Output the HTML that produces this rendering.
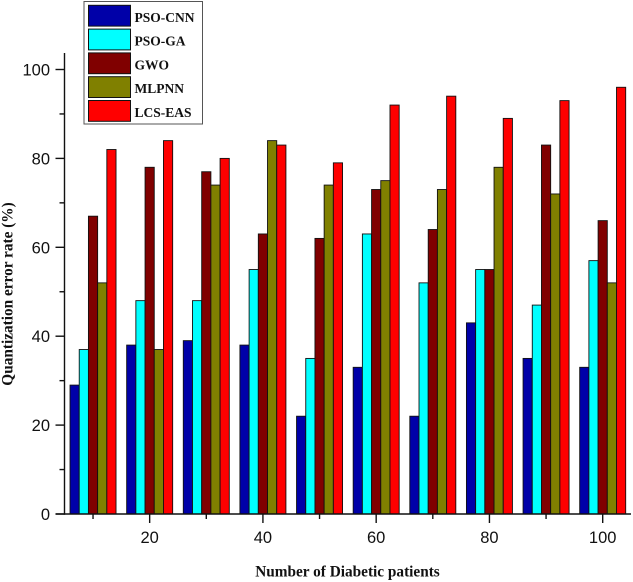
<!DOCTYPE html>
<html lang="en">
<head>
<meta charset="utf-8">
<title>Quantization error rate chart</title>
<style>
html,body{margin:0;padding:0;background:#fff;width:633px;height:582px;overflow:hidden}
svg{display:block;position:absolute;left:0;top:0}
.tick{font-family:"Liberation Sans",sans-serif;font-size:16.5px;fill:#111}
.title{font-family:"Liberation Serif",serif;font-weight:bold;font-size:15.3px;fill:#111}
.leg{font-family:"Liberation Serif",serif;font-weight:bold;font-size:13.5px;fill:#111}
</style>
</head>
<body>
<svg id="chart" width="633" height="582" viewBox="0 0 633 582" xmlns="http://www.w3.org/2000/svg">
<text class="title" x="347.5" y="576.5" text-anchor="middle">Number of Diabetic patients</text>
<text class="title" transform="translate(12.5,294) rotate(-90)" text-anchor="middle">Quantization error rate (%)</text>
</svg>
<script>
const categories = [10, 20, 30, 40, 50, 60, 70, 80, 90, 100];
const seriesNames = ['PSO-CNN', 'PSO-GA', 'GWO', 'MLPNN', 'LCS-EAS'];
const psoCnn = [29, 38, 39, 38, 22, 33, 22, 43, 35, 33];
const psoGa = [37, 48, 48, 55, 35, 63, 52, 55, 47, 57];
const gwo = [67, 78, 77, 63, 62, 73, 64, 55, 83, 66];
const mlpnn = [52, 37, 74, 84, 74, 75, 73, 78, 72, 52];
const lcsEas = [82, 84, 80, 83, 79, 92, 94, 89, 93, 96];
const yTicks = [0, 20, 40, 60, 80, 100];
const yMinorTicks = [10, 30, 50, 70, 90];
const xTicks = [20, 40, 60, 80, 100];
const xMinorTicks = [10, 30, 50, 70, 90];

const seriesValues = [psoCnn, psoGa, gwo, mlpnn, lcsEas];
const seriesColors = ['#0000a8', '#00ffff', '#800000', '#808000', '#ff0000'];
const svg = document.getElementById('chart');
const NS = 'http://www.w3.org/2000/svg';
const xScale = v => 36.4 + 5.663 * v;
const yScale = v => 514 - 4.445 * v;
const barW = 9.2;

function make(tag, props) {
  const el = document.createElementNS(NS, tag);
  for (const k in props) el.setAttribute(k, props[k]);
  return el;
}

categories.forEach((c, i) => {
  seriesValues.forEach((vals, s) => {
    const top = yScale(vals[i]);
    const bar = make('rect', {
      x: xScale(c) - 2.5 * barW + s * barW,
      y: top,
      width: barW,
      height: yScale(0) - top,
      fill: seriesColors[s],
      stroke: '#111',
      'stroke-width': 0.9
    });
    
    
    svg.appendChild(bar);
  });
});

const yAxis = make('line', {x1: 64.5, x2: 64.5, y1: 53, y2: yScale(0) + 0.7, stroke: '#111', 'stroke-width': 1.4});


svg.appendChild(yAxis);

const xAxis = make('line', {x1: 55.5, x2: 631, y1: yScale(0), y2: yScale(0), stroke: '#111', 'stroke-width': 1.4});


svg.appendChild(xAxis);

yTicks.forEach(v => {
  const t = make('line', {x1: 55.5, x2: 64.5, y1: yScale(v), y2: yScale(v), stroke: '#111', 'stroke-width': 1.4});
  
  
  svg.appendChild(t);
  const l = make('text', {x: 50, y: yScale(v) + 6, 'text-anchor': 'end', class: 'tick'});
  
  
  l.textContent = v;
  svg.appendChild(l);
});

yMinorTicks.forEach(v => {
  const t = make('line', {x1: 59.5, x2: 64.5, y1: yScale(v), y2: yScale(v), stroke: '#111', 'stroke-width': 1.4});
  
  
  svg.appendChild(t);
});

xTicks.forEach(v => {
  const t = make('line', {x1: xScale(v), x2: xScale(v), y1: yScale(0), y2: yScale(0) + 9, stroke: '#111', 'stroke-width': 1.4});
  
  
  svg.appendChild(t);
  const l = make('text', {x: xScale(v), y: 543, 'text-anchor': 'middle', class: 'tick'});
  
  
  l.textContent = v;
  svg.appendChild(l);
});

xMinorTicks.forEach(v => {
  const t = make('line', {x1: xScale(v), x2: xScale(v), y1: yScale(0), y2: yScale(0) + 5, stroke: '#111', 'stroke-width': 1.4});
  
  
  svg.appendChild(t);
});

const legendBox = make('rect', {x: 84, y: 1.5, width: 118.5, height: 122.5, fill: '#fff', stroke: '#555', 'stroke-width': 1});


svg.appendChild(legendBox);

seriesNames.forEach((name, s) => {
  const sy = 5.3 + s * 23.8;
  const sw = make('rect', {x: 88.5, y: sy, width: 42, height: 20.8, fill: seriesColors[s], stroke: '#111', 'stroke-width': 1});
  
  
  svg.appendChild(sw);
  const tx = make('text', {x: 134.5, y: sy + 16.5, class: 'leg'});
  
  
  tx.textContent = name;
  svg.appendChild(tx);
});
</script>
</body>
</html>
